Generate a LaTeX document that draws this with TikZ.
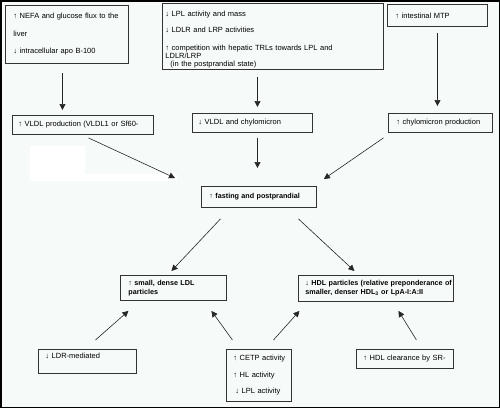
\documentclass[tikz,border=0pt]{standalone}
\usepackage{fontspec}
\setmainfont{Liberation Sans}
\usetikzlibrary{arrows.meta}
\definecolor{paper}{RGB}{246,251,249}
\begin{document}
\begin{tikzpicture}[x=1pt,y=-1pt,
        box/.style={draw=black!80,line width=0.9pt,anchor=north west,align=left,
            inner xsep=7pt,inner ysep=0pt,font=\fontsize{7.5}{9}\selectfont},
        boldbox/.style={box,font=\fontsize{7.2}{9}\selectfont\bfseries},
        link/.style={draw=black!85,line width=0.6pt,-{Triangle[length=6pt,width=6pt]}}]
        \fill[paper] (0,0) rectangle (500,408);
        \draw[line width=1.5pt] (0.75,0.75) rectangle (499.25,407.25);
        \fill[white] (30,146)--(85,146)--(85,174)--(177,174)--(177,181)--(30,181)--cycle;
        \node[box,inner xsep=8pt,text width=107pt,minimum height=58pt] (nefa) at (5,5)
            {↑ NEFA and glucose flux to the\\[8.5pt]liver\\[8.5pt]↓ intracellular apo B-100};
        \node[box,inner xsep=3pt,text width=215pt,minimum height=66pt] (lpl) at (162,3)
            {\rule{0pt}{12pt}↓ LPL activity and mass\\[7pt]↓ LDLR and LRP activities\\[9pt]↑ competition with hepatic TRLs towards LPL and\\[-1pt]LDLR/LRP\\[-1pt]\hspace*{5pt}(in the postprandial state)};
        \node[box,inner xsep=8pt,text width=84pt,minimum height=22pt] (mtp) at (387,4) {↑ intestinal MTP};
        \node[box,inner xsep=6pt,text width=129pt,minimum height=19pt] (vldl) at (12,115) {↑ VLDL production (VLDL1 or Sf60-};
        \node[box,inner xsep=6pt,text width=108pt,minimum height=19pt] (vchy) at (192,113) {↓ VLDL and chylomicron};
        \node[box,inner xsep=8pt,text width=88pt,minimum height=19pt] (cprod) at (388,113) {↑ chylomicron production};
        \node[boldbox,inner xsep=8pt,text width=99pt,minimum height=21pt] (fast) at (201,186) {↑ fasting and postprandial};
        \node[boldbox,inner xsep=8pt,text width=90pt,minimum height=25pt] (ldl) at (120,275) {↑ small, dense LDL\\particles};
        \node[boldbox,inner xsep=7pt,text width=141pt,minimum height=26pt] (hdl) at (298,275)
            {\mbox{↓ HDL particles (relative preponderance of}\\\mbox{smaller, denser HDL\textsubscript{3} or LpA-I:A:II}};
        \node[box,text width=84pt,text depth=12pt,minimum height=24pt] (ldr) at (38,349) {↓ LDR-mediated};
        \node[box,text width=51pt,minimum height=52pt] (cetp) at (226,349)
            {\mbox{↑ CETP activity}\\[7.5pt]\mbox{↑ HL activity}\\[7.5pt]\mbox{\hspace*{2pt}↓ LPL activity}};
        \node[box,text width=83pt,minimum height=19pt] (hclr) at (356,349) {↑ HDL clearance by SR-};
        \draw[link] ([shift={(-4.5,9)}]nefa.south)--([shift={(-20.5,-5)}]vldl.north);
        \draw[link] ([shift={(-15.5,7)}]lpl.south)--([shift={(5,-6)}]vchy.north);
        \draw[link] ([shift={(0,6)}]mtp.south)--([shift={(-3,-7)}]cprod.north);
        \draw[link] ([shift={(5.5,3)}]vldl.south)--([shift={(-26,-8)}]fast.north west);
        \draw[link] ([shift={(5,5)}]vchy.south)--([shift={(-1.5,-18)}]fast.north);
        \draw[link] ([shift={(-57,5)}]cprod.south)--([shift={(7,-7)}]fast.north east);
        \draw[link] ([shift={(-38.5,11)}]fast.south)--([shift={(-2,-4)}]ldl.north);
        \draw[link] ([shift={(39.5,11)}]fast.south)--([shift={(-21.5,-4)}]hdl.north);
        \draw[link] ([shift={(8,-9)}]ldr.north)--([shift={(-45,10)}]ldl.south);
        \draw[link] ([shift={(-26.5,-9)}]cetp.north)--([shift={(38,10)}]ldl.south);
        \draw[link] ([shift={(14.5,-9)}]cetp.north)--([shift={(-76.5,9)}]hdl.south);
        \draw[link] ([shift={(11.5,-9)}]hclr.north)--([shift={(22.5,9)}]hdl.south);
\end{tikzpicture}
\end{document}
